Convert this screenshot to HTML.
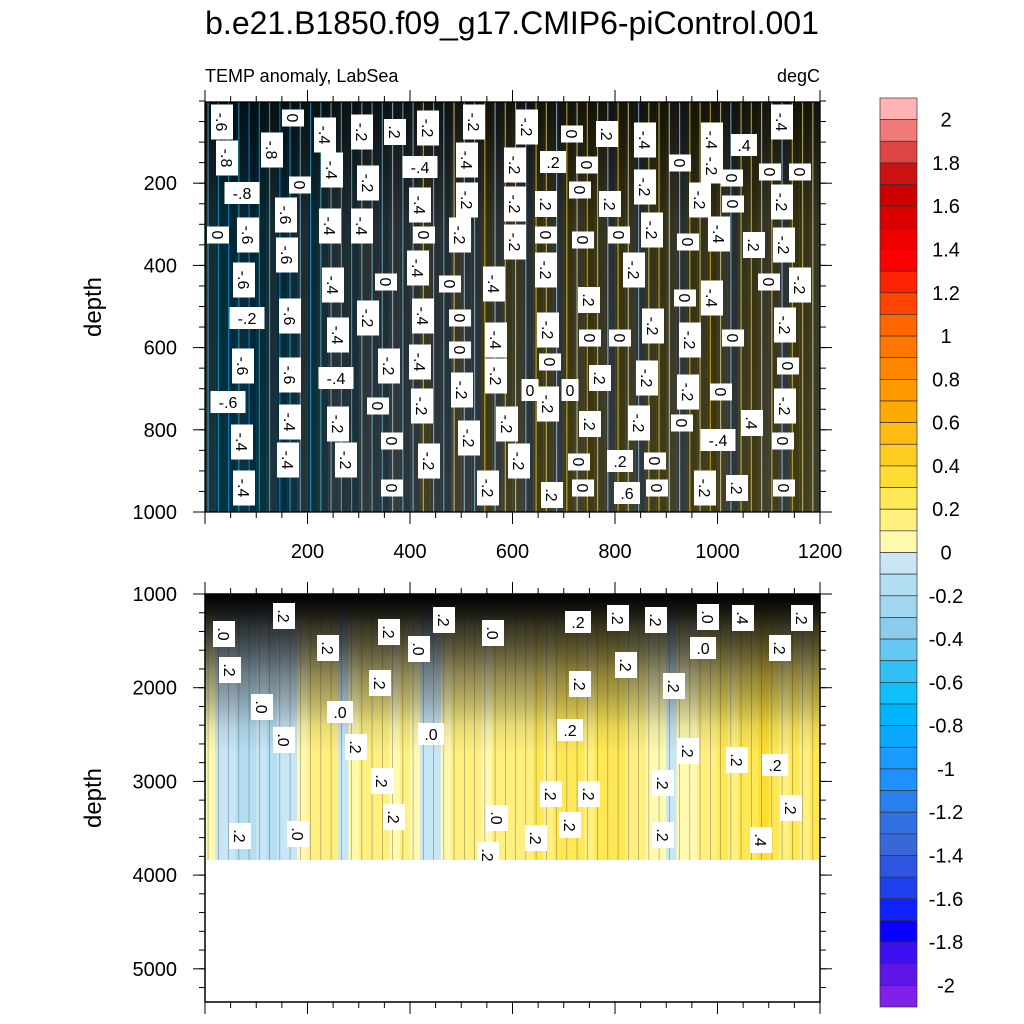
<!DOCTYPE html>
<html><head><meta charset="utf-8"><style>
body{margin:0;background:#fff;}
svg{display:block;font-family:"Liberation Sans",sans-serif;}
</style></head><body>
<svg id="chart" width="1024" height="1024" viewBox="0 0 1024 1024" xmlns="http://www.w3.org/2000/svg">
<defs>
<linearGradient id="topShade" x1="0" y1="0" x2="0" y2="1">
<stop offset="0" stop-color="#000" stop-opacity="0.85"/>
<stop offset="0.3" stop-color="#000" stop-opacity="0.6"/>
<stop offset="1" stop-color="#000" stop-opacity="0.5"/>
</linearGradient>
<linearGradient id="botShade" x1="0" y1="0" x2="0" y2="1">
<stop offset="0" stop-color="#000" stop-opacity="0.92"/>
<stop offset="0.12" stop-color="#111" stop-opacity="0.6"/>
<stop offset="0.3" stop-color="#222" stop-opacity="0.3"/>
<stop offset="0.5" stop-color="#222" stop-opacity="0.05"/>
<stop offset="0.6" stop-color="#222" stop-opacity="0"/>
</linearGradient>
</defs>
<text x="512" y="34" font-size="32" text-anchor="middle">b.e21.B1850.f09_g17.CMIP6-piControl.001</text>
<text x="205" y="82" font-size="18">TEMP anomaly, LabSea</text>
<text x="820" y="82" font-size="18" text-anchor="end">degC</text>
<text transform="translate(101,307) rotate(-90)" font-size="24" text-anchor="middle">depth</text>
<text transform="translate(101,798) rotate(-90)" font-size="24" text-anchor="middle">depth</text>
<g id="top"></g>
<g id="bot"></g>
<g id="cbar"></g>
</svg>
<script>
const colors = ["#ffb3b3","#f07a7a","#dd4444","#cc1111","#cc0000","#dd0000","#ee0000","#ff0000","#ff2200","#ff4400","#ff6600","#ff7700","#ff8800","#ff9900","#ffaa00","#ffbb11","#ffcc22","#ffdd33","#ffe855","#fff080","#fffab0","#c8e6f6","#b4def2","#a0d6ee","#8ccbec","#66c8f2","#33c0f5","#0fc0fa","#00b4ff","#0aa8ff","#1a9bff","#1e90ff","#2880ee","#3070e0","#3868d8","#2e55e0","#2040ee","#1020ff","#0a00ff","#3c10f0","#6015e8","#8020e8"];
const cbarLabels = ["2","1.8","1.6","1.4","1.2","1","0.8","0.6","0.4","0.2","0","-0.2","-0.4","-0.6","-0.8","-1","-1.2","-1.4","-1.6","-1.8","-2"];
const topVals = [-0.5,-0.7,-0.8,-0.6,-0.9,-0.7,-0.5,-0.8,-0.6,-0.4,-0.6,-0.5,-0.3,-0.4,-0.5,-0.2,-0.3,-0.4,-0.1,-0.3,-0.2,0.1,-0.2,-0.3,0.0,-0.1,-0.2,0.2,-0.1,0.1,0.0,-0.2,0.2,0.1,-0.1,0.2,0.0,0.3,0.1,-0.1,0.2,0.0,-0.2,0.1,0.2,0.0,-0.1,0.2,0.1,0.3,0.0,-0.2,0.1,0.2,0.0,0.1,-0.1,0.2,0.1,0.0];
const botVals = [0.05,-0.05,-0.05,-0.15,-0.15,-0.1,-0.15,-0.1,-0.05,0.05,0.1,0.15,0.1,-0.05,0.05,0.1,0.15,0.1,0.05,0.1,0.05,-0.05,-0.05,0.05,0.1,0.15,0.1,0.05,0.1,0.15,0.1,0.15,0.2,0.15,0.25,0.2,0.25,0.15,0.2,0.25,0.2,0.15,0.1,0.05,0.05,-0.05,0.05,0.05,0.1,0.15,0.2,0.15,0.2,0.25,0.3,0.2,0.15,0.2,0.15,0.2];
const xTicks = [200,400,600,800,1000,1200];
const topYTicks = [200,400,600,800,1000];
const botYTicks = [1000,2000,3000,4000,5000];
const topLabels = [[222,122,'-.6',90],[293,118,'0',90],[325,135,'-.4',90],[362,132,'-.2',90],[395,132,'.2',90],[428,128,'-.2',90],[474,122,'-.2',90],[527,127,'-.2',90],[572,134,'0',90],[607,134,'.2',90],[645,140,'-.4',90],[712,140,'-.4',90],[744,145,'.4',0],[782,122,'-.4',90],
[227,158,'-.8',90],[272,150,'-.8',90],[332,170,'-.4',90],[368,183,'-.2',90],[420,167,'-.4',0],[467,160,'-.4',90],[515,165,'-.2',90],[553,162,'.2',0],[587,165,'0',90],[645,187,'-.2',90],[680,163,'0',90],[712,166,'-.2',90],[732,178,'0',90],[770,172,'0',90],[800,172,'0',90],
[242,193,'-.8',0],[300,185,'0',90],[420,205,'-.4',90],[467,200,'-.2',90],[515,204,'-.2',90],[546,204,'.2',90],[580,190,'0',90],[610,204,'.2',90],[700,200,'-.2',90],[733,204,'0',90],[782,202,'-.2',90],
[218,235,'0',90],[248,235,'-.6',90],[286,215,'-.6',90],[330,226,'-.4',90],[362,226,'-.4',90],[424,235,'0',90],[460,235,'-.2',90],[515,242,'-.2',90],[546,235,'0',90],[583,240,'0',90],[619,235,'0',90],[652,230,'-.2',90],[688,242,'0',90],[719,234,'-.4',90],[754,245,'.2',90],[784,245,'-.2',90],
[244,280,'-.6',90],[287,255,'-.6',90],[333,285,'-.4',90],[386,282,'0',90],[418,268,'-.4',90],[450,284,'0',90],[494,284,'-.4',90],[546,270,'-.2',90],[634,270,'-.2',90],[769,282,'0',90],[800,285,'-.2',90],
[247,318,'-.2',0],[290,316,'-.6',90],[338,335,'-.4',90],[368,318,'-.2',90],[423,316,'-.4',90],[460,318,'0',90],[496,340,'-.4',90],[548,330,'-.2',90],[589,300,'.2',90],[590,338,'0',90],[620,338,'0',90],[653,326,'-.2',90],[690,340,'-.2',90],[733,338,'0',90],[785,325,'-.2',90],[712,298,'-.4',90],[685,298,'0',90],
[243,366,'-.6',90],[290,375,'-.6',90],[336,378,'-.4',0],[389,366,'-.2',90],[420,362,'-.4',90],[460,350,'0',90],[462,390,'-.2',90],[496,376,'-.2',90],[530,390,'0',0],[550,362,'0',90],[570,390,'0',0],[600,378,'.2',90],[647,378,'-.2',90],[688,392,'-.2',90],[721,392,'0',90],[788,366,'0',90],
[228,402,'-.6',0],[290,422,'-.4',90],[338,424,'-.2',90],[378,406,'0',90],[422,406,'-.2',90],[469,438,'-.2',90],[507,424,'-.2',90],[548,404,'-.2',90],[590,424,'.2',90],[639,423,'-.2',90],[682,423,'0',90],[718,440,'-.4',0],[752,423,'.4',90],[785,406,'-.2',90],
[242,442,'-.4',90],[392,441,'0',90],[519,461,'-.2',90],[579,462,'0',90],[620,461,'.2',0],[655,461,'0',90],[783,441,'0',90],
[244,488,'-.4',90],[288,460,'-.4',90],[346,460,'-.2',90],[392,488,'0',90],[429,461,'-.2',90],[488,488,'-.2',90],[552,495,'.2',90],[583,488,'0',90],[627,493,'.6',0],[657,488,'0',90],[705,488,'-.2',90],[737,488,'.2',90],[784,488,'0',90]];
const botLabels = [[224,634,'.0',90],[284,616,'.2',90],[230,670,'.2',90],[328,648,'.2',90],[389,632,'.2',90],[419,649,'.0',90],[444,620,'.2',90],[493,633,'.0',90],[578,622,'.2',0],[618,618,'.2',90],[656,620,'.2',90],[708,617,'.0',90],[743,618,'.4',90],[802,618,'.2',90],[703,648,'.0',0],[780,648,'.2',90],[626,665,'.2',90],[380,683,'.2',90],[580,684,'.2',90],[674,686,'.2',90],[262,707,'.0',90],[340,712,'.0',0],[284,740,'.0',90],[431,734,'.0',0],[570,730,'.2',0],[356,747,'.2',90],[688,751,'.2',90],[737,760,'.2',90],[775,765,'.2',0],[382,781,'.2',90],[663,783,'.2',90],[394,817,'.2',90],[551,794,'.2',90],[589,794,'.2',90],[791,808,'.2',90],[497,818,'.0',90],[570,825,'.2',90],[240,836,'.2',90],[298,834,'.0',90],[536,838,'.2',90],[663,835,'.2',90],[761,840,'.4',90],[488,855,'.2',90]];

const NS="http://www.w3.org/2000/svg";
function mk(parent,tag,attrs){const e=document.createElementNS(NS,tag);for(const k in attrs)e.setAttribute(k,attrs[k]);parent.appendChild(e);return e;}
function colorFor(v){let i; if(v>=0){i=20-Math.floor(v/0.1+1e-9);}else{i=21+Math.floor(-v/0.1-1e-9);} i=Math.max(0,Math.min(41,i)); return colors[i];}
const X0=205,X1=820;
const xs=v=>X0+(v/1200)*(X1-X0);
const ysTop=v=>101+(v/1000)*(512-101);
const ysBot=v=>594+((v-1000)/1000)*93.7;

function panel(g,vals,y0,yData,y1,shadeId,isTop){
  const w=(X1-X0)/vals.length;
  mk(g,'rect',{x:X0,y:y0,width:X1-X0,height:yData-y0,fill:isTop?'#0a0a06':'#fff'});
  vals.forEach((v,i)=>{
    const r=mk(g,'rect',{x:X0+i*w,y:y0,width:w+0.5,height:yData-y0,fill:colorFor(v),'fill-opacity':isTop?0.5:1});
    
    
  });
  mk(g,'rect',{x:X0,y:y0,width:X1-X0,height:yData-y0,fill:`url(#${shadeId})`});
  vals.forEach((v,i)=>{
    const l=mk(g,'line',{x1:X0+i*w+w*0.3,x2:X0+i*w+w*0.3,y1:y0,y2:yData,stroke:isTop?colorFor(v):'#333','stroke-width':isTop?1.2:0.6,'stroke-opacity':isTop?0.6:0.5});
    
    
  });
  mk(g,'rect',{x:X0,y:y0,width:X1-X0,height:y1-y0,fill:'none',stroke:'#000','stroke-width':1.3});
}
function ticks(g,y0,y1,ys,yt,showXLabels){
  for(let v=0;v<=1200;v+=50){const x=xs(v);const maj=v%200===0;
    mk(g,'line',{x1:x,x2:x,y1:y1,y2:y1+(maj?12:6),stroke:'#000','stroke-width':1});
    mk(g,'line',{x1:x,x2:x,y1:y0,y2:y0-(maj?12:6),stroke:'#000','stroke-width':1});}
  if(showXLabels) xTicks.forEach(v=>{const t=mk(g,'text',{x:xs(v),y:y1+46,'font-size':20,'text-anchor':'middle'});t.textContent=v;
    
    });
  yt.forEach(v=>{const y=ys(v);
    mk(g,'line',{x1:X0-12,x2:X0,y1:y,y2:y,stroke:'#000'});
    mk(g,'line',{x1:X1,x2:X1+12,y1:y,y2:y,stroke:'#000'});
    const t=mk(g,'text',{x:X0-28,y:y+7,'font-size':20,'text-anchor':'end'});t.textContent=v;
    
    });
}
function labels(g,arr){
  arr.forEach(([x,y,s,r])=>{
    const lg=mk(g,'g',{transform:`translate(${x},${y}) rotate(${r})`});
    
    
    const w=s.length*9+8;
    mk(lg,'rect',{x:-w/2,y:-11,width:w,height:22,fill:'#fff'});
    const t=mk(lg,'text',{x:0,y:6,'font-size':16,'text-anchor':'middle'});t.textContent=s;
  });
}
const gt=document.getElementById('top');
panel(gt,topVals,102,512,512,'topShade',true);
labels(gt,topLabels);
ticks(gt,102,512,ysTop,topYTicks,true);
const gb=document.getElementById('bot');
panel(gb,botVals,594,860,1002,'botShade',false);
mk(gb,'rect',{x:X0,y:594,width:X1-X0,height:266,fill:'url(#botShade)'});
labels(gb,botLabels);
mk(gb,'rect',{x:X0,y:594,width:X1-X0,height:408,fill:'none',stroke:'#000','stroke-width':1.3});
ticks(gb,594,1002,ysBot,botYTicks,false);
for(let v=1000;v<=5300;v+=200){const y=ysBot(v);mk(gb,'line',{x1:X0-6,x2:X0,y1:y,y2:y,stroke:'#000'});mk(gb,'line',{x1:X1,x2:X1+6,y1:y,y2:y,stroke:'#000'});}
for(let v=0;v<=1000;v+=50){const y=ysTop(v);mk(gt,'line',{x1:X0-6,x2:X0,y1:y,y2:y,stroke:'#000'});mk(gt,'line',{x1:X1,x2:X1+6,y1:y,y2:y,stroke:'#000'});}

const gc=document.getElementById('cbar');
const cb0=98,bh=(1007-98)/42;
colors.forEach((c,i)=>{
  const r=mk(gc,'rect',{x:880,y:cb0+i*bh,width:37,height:bh,fill:c,stroke:'#333','stroke-width':0.7});
  
  
});
cbarLabels.forEach((s,i)=>{
  const t=mk(gc,'text',{x:946,y:cb0+bh*(1+2*i)+7,'font-size':20,'text-anchor':'middle'});t.textContent=s;
  
  
});
</script>
</body></html>
